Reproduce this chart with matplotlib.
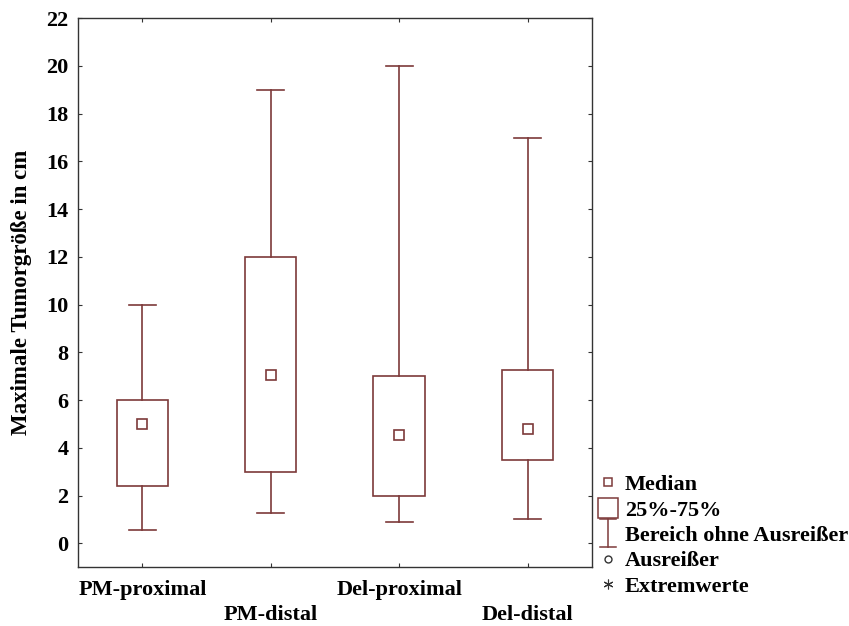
import matplotlib
matplotlib.use("Agg")
import matplotlib.pyplot as plt
from matplotlib.lines import Line2D
from matplotlib.patches import Rectangle
from matplotlib.legend_handler import HandlerBase

groups = ["PM-proximal", "PM-distal", "Del-proximal", "Del-distal"]
medians = [5.0, 7.05, 4.55, 4.77]
q25 = [2.4, 3.0, 2.0, 3.5]
q75 = [6.0, 12.0, 7.0, 7.27]
lows = [0.55, 1.27, 0.88, 1.0]
highs = [10.0, 19.0, 20.0, 17.0]
yticks = list(range(0, 23, 2))

COL = "#7d3a3a"
FS = 16
plt.rcParams["font.family"] = ["Liberation Serif", "DejaVu Serif"]
plt.rcParams["font.weight"] = "bold"

fig = plt.figure(figsize=(8.49, 6.26), dpi=100)
ax = fig.add_axes([0.092, 0.094, 0.605, 0.877])

box_w = 0.4
cap_w = 0.21
for i, g in enumerate(groups):
    x = i + 1
    ax.add_patch(Rectangle((x - box_w / 2, q25[i]), box_w, q75[i] - q25[i],
                           fill=False, edgecolor=COL, lw=1.2))
    ax.plot([x, x], [q75[i], highs[i]], color=COL, lw=1.2)
    ax.plot([x, x], [lows[i], q25[i]], color=COL, lw=1.2)
    ax.plot([x - cap_w / 2, x + cap_w / 2], [highs[i], highs[i]], color=COL, lw=1.2)
    ax.plot([x - cap_w / 2, x + cap_w / 2], [lows[i], lows[i]], color=COL, lw=1.2)
    ax.plot(x, medians[i], marker="s", ms=6.5, mfc="white", mec=COL, mew=1.2)

ax.set_xlim(0.5, 4.5)
ax.set_ylim(-1, 22)
ax.set_yticks(yticks)
ax.set_xticks(range(1, len(groups) + 1))
ax.set_xticklabels([])
# staggered category labels under the axis
for i, g in enumerate(groups):
    ax.annotate(g, xy=(i + 1, 0), xycoords=("data", "axes fraction"),
                xytext=(0, -16.6 if i % 2 == 0 else -34.6), textcoords="offset points",
                ha="center", va="center", fontsize=FS, fontweight="bold")
ax.tick_params(direction="in", length=3, top=True, right=True,
               labelsize=FS, width=0.8, color="#333333", pad=7)
for s in ax.spines.values():
    s.set_color("#333333")
    s.set_linewidth(1.0)
ax.set_ylabel("Maximale Tumorgröße in cm", fontsize=FS + 0.5, fontweight="bold", labelpad=10)


class WhiskerHandler(HandlerBase):
    def create_artists(self, legend, orig_handle, xdescent, ydescent,
                       width, height, fontsize, trans):
        cx = width / 2 - xdescent
        y0 = -ydescent - 4.5
        y1 = height - ydescent + 4.5
        h = 6
        arts = [Line2D([cx, cx], [y0, y1], color=COL, lw=1.1),
                Line2D([cx - h, cx + h], [y0, y0], color=COL, lw=1.1),
                Line2D([cx - h, cx + h], [y1, y1], color=COL, lw=1.1)]
        for a in arts:
            a.set_transform(trans)
        return arts


whisker_key = object()
handles = [
    Line2D([], [], ls="none", marker="s", ms=6, mfc="white", mec=COL, mew=1.1),
    Line2D([], [], ls="none", marker="s", ms=14, mfc="white", mec=COL, mew=1.1),
    whisker_key,
    Line2D([], [], ls="none", marker="o", ms=5, mfc="white", mec="#333333", mew=1.0),
    Line2D([], [], ls="none", marker=(6, 2, 0), ms=7, mec="#333333", mew=0.8),
]
labels = ["Median", "25%-75%", "Bereich ohne Ausreißer", "Ausreißer", "Extremwerte"]
fig.legend(handles, labels, handler_map={whisker_key: WhiskerHandler()},
           loc="upper left", bbox_to_anchor=(0.703, 0.242), frameon=False,
           handlelength=1.0, handletextpad=0.27, labelspacing=0.22,
           borderpad=0, borderaxespad=0, prop={"size": FS, "weight": "bold"})

fig.savefig("out.png", dpi=100)
